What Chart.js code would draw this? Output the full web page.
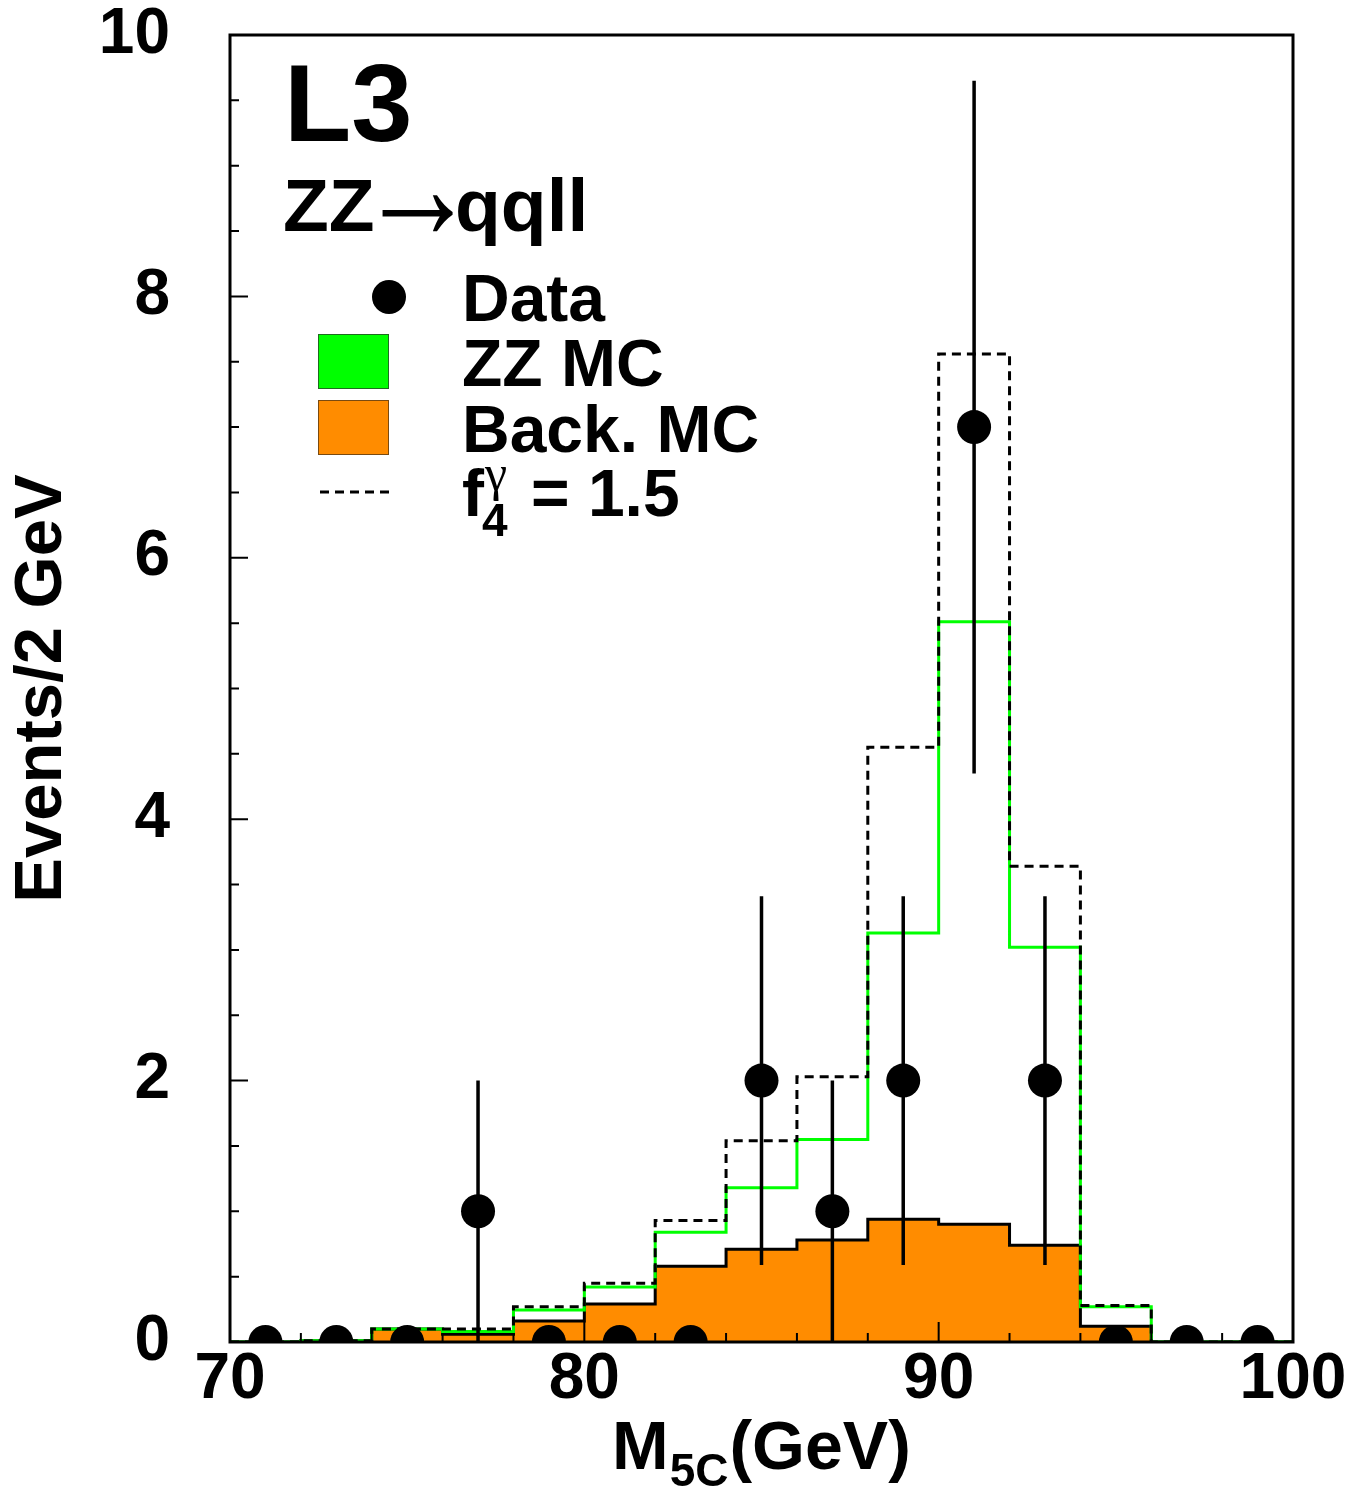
<!DOCTYPE html>
<html><head><meta charset="utf-8">
<script src="https://cdn.jsdelivr.net/npm/chart.js@4/dist/chart.umd.min.js"></script>
<style>html,body{margin:0;padding:0;background:#fff}#wrap{position:relative;width:1359px;height:1488px}</style>
</head><body><div id="wrap"><canvas id="c"></canvas></div>
<script>
// ---- data ----
const binLow = [70, 72, 74, 76, 78, 80, 82, 84, 86, 88, 90, 92, 94, 96, 98];
const xMax = 100;
const binCenters = [71, 73, 75, 77, 79, 81, 83, 85, 87, 89, 91, 93, 95, 97, 99];
const backMC  = [0, 0.01, 0.10, 0.06, 0.16, 0.29, 0.58, 0.71, 0.78, 0.94, 0.90, 0.74, 0.12, 0, 0];
const zzTotal = [0, 0.01, 0.10, 0.08, 0.245, 0.42, 0.84, 1.18, 1.55, 3.13, 5.51, 3.02, 0.27, 0, 0];
const f4Total = [0, 0.01, 0.10, 0.10, 0.27, 0.45, 0.93, 1.54, 2.03, 4.55, 7.56, 3.64, 0.28, 0, 0];
const dataCounts = [0, 0, 0, 1, 0, 0, 0, 2, 1, 2, 7, 2, 0, 0, 0];
const errLow  = [0, 0, 0, 1, 0, 0, 0, 1.41, 1, 1.41, 2.65, 1.41, 0, 0, 0];
const errHigh = [0, 0, 0, 1, 0, 0, 0, 1.41, 1, 1.41, 2.65, 1.41, 0, 0, 0];
const xTickLabels = [70, 80, 90, 100];
const yTickLabels = [0, 2, 4, 6, 8, 10];
const legendLabels = ['Data', 'ZZ MC', 'Back. MC'];

const FONT = "'Liberation Sans', Arial, Helvetica, sans-serif";
const ORANGE = '#FF8C00';
const GREEN = '#00FF00';

function stepPoints(vals) {
  const pts = binLow.map((x, i) => ({x: x, y: vals[i]}));
  pts.push({x: xMax, y: vals[vals.length - 1]});
  return pts;
}

const decorPlugin = {
  id: 'decor',
  afterDatasetsDraw(chart) {
    const ctx = chart.ctx;
    const xs = chart.scales.x, ys = chart.scales.y;
    const a = chart.chartArea;
    ctx.save();
    // error bars
    ctx.strokeStyle = '#000';
    ctx.lineWidth = 3.5;
    ctx.beginPath();
    for (let i = 0; i < dataCounts.length; i++) {
      if (errLow[i] === 0 && errHigh[i] === 0) continue;
      const px = xs.getPixelForValue(binCenters[i]);
      ctx.moveTo(px, ys.getPixelForValue(dataCounts[i] - errLow[i]));
      ctx.lineTo(px, ys.getPixelForValue(dataCounts[i] + errHigh[i]));
    }
    ctx.stroke();
    // ticks (inside)
    ctx.lineWidth = 2;
    ctx.beginPath();
    for (let v = 70; v <= 100; v += 2) {
      const px = xs.getPixelForValue(v);
      const len = (v % 10 === 0) ? 20 : 9;
      ctx.moveTo(px, a.bottom);
      ctx.lineTo(px, a.bottom - len);
    }
    for (let k = 0; k <= 20; k++) {
      const v = k * 0.5;
      const py = ys.getPixelForValue(v);
      const len = (k % 4 === 0) ? 18 : 9;
      ctx.moveTo(a.left, py);
      ctx.lineTo(a.left + len, py);
    }
    ctx.stroke();
    // frame
    ctx.lineWidth = 3;
    ctx.strokeRect(a.left, a.top, a.right - a.left, a.bottom - a.top);
    ctx.restore();
  },
  afterDraw(chart) {
    const ctx = chart.ctx;
    ctx.save();
    ctx.fillStyle = '#000';
    ctx.textBaseline = 'alphabetic';
    ctx.textAlign = 'left';
    // x axis title  M_5C(GeV)
    ctx.font = 'bold 68px ' + FONT;
    let x = 612;
    ctx.fillText('M', x, 1469);
    x += ctx.measureText('M').width;
    ctx.font = 'bold 46px ' + FONT;
    ctx.fillText('5C', x + 1, 1486);
    x += ctx.measureText('5C').width + 2;
    ctx.font = 'bold 68px ' + FONT;
    ctx.fillText('(GeV)', x, 1469);

    // L3 label
    ctx.font = 'bold 110px ' + FONT;
    ctx.fillText('L3', 284, 141);
    // ZZ -> qqll
    ctx.font = 'bold 75px ' + FONT;
    ctx.fillText('ZZ', 283, 231);
    ctx.fillText('qqll', 455, 231);
    ctx.save();
    ctx.font = '100px ' + FONT;
    const m = ctx.measureText('\u2192');
    const inkL = -m.actualBoundingBoxLeft, inkR = m.actualBoundingBoxRight;
    const inkT = -m.actualBoundingBoxAscent, inkB = m.actualBoundingBoxDescent;
    const tx0 = 382, tx1 = 453, ty0 = 194, ty1 = 231;
    const sx = (tx1 - tx0) / (inkR - inkL), sy = (ty1 - ty0) / (inkB - inkT);
    ctx.translate(tx0 - inkL * sx, ty0 - inkT * sy);
    ctx.scale(sx, sy);
    ctx.fillText('\u2192', 0, 0);
    ctx.restore();

    // legend
    ctx.font = 'bold 66px ' + FONT;
    ctx.fillText(legendLabels[0], 462, 321);
    ctx.fillText(legendLabels[1], 462, 386);
    ctx.fillText(legendLabels[2], 462, 452);
    // f4^gamma = 1.5
    ctx.fillText('f', 462, 516);
    ctx.font = '50px "Liberation Serif", "DejaVu Serif", serif';
    ctx.fillText('\u03B3', 485, 490);
    ctx.font = 'bold 46px ' + FONT;
    ctx.fillText('4', 482, 536);
    ctx.font = 'bold 66px ' + FONT;
    ctx.fillText('= 1.5', 531, 516);

    // symbols
    ctx.beginPath();
    ctx.arc(389, 297, 17, 0, Math.PI * 2);
    ctx.fill();
    ctx.fillStyle = GREEN;
    ctx.fillRect(318, 334, 71, 55);
    ctx.strokeStyle = '#1f6b1f';
    ctx.lineWidth = 1;
    ctx.strokeRect(318.5, 334.5, 70, 54);
    ctx.fillStyle = ORANGE;
    ctx.fillRect(318, 400, 71, 55);
    ctx.strokeStyle = '#7a4a10';
    ctx.strokeRect(318.5, 400.5, 70, 54);
    ctx.strokeStyle = '#000';
    ctx.lineWidth = 3;
    ctx.setLineDash([9, 6]);
    ctx.beginPath();
    ctx.moveTo(320, 492);
    ctx.lineTo(389, 492);
    ctx.stroke();
    ctx.restore();
  }
};

new Chart(document.getElementById('c'), {
  type: 'scatter',
  data: {
    datasets: [
      {
        label: 'Data', type: 'scatter', order: 0,
        data: binCenters.map((x, i) => ({x: x, y: dataCounts[i]})),
        pointRadius: 17, pointHoverRadius: 17,
        backgroundColor: '#000', borderColor: '#000', borderWidth: 0
      },
      {
        label: 'f4 = 1.5', type: 'line', order: 1,
        data: stepPoints(f4Total), stepped: true,
        borderColor: '#000', borderWidth: 3, borderDash: [9, 6],
        pointRadius: 0, fill: false
      },
      {
        label: 'ZZ MC', type: 'line', order: 2,
        data: stepPoints(zzTotal), stepped: true,
        borderColor: GREEN, borderWidth: 3,
        pointRadius: 0, fill: false
      },
      {
        label: 'Back. MC', type: 'line', order: 3,
        data: stepPoints(backMC), stepped: true,
        borderColor: '#000', borderWidth: 3, backgroundColor: ORANGE,
        pointRadius: 0, fill: 'origin'
      }
    ]
  },
  options: {
    responsive: true, maintainAspectRatio: false, animation: false,
    events: [],
    layout: {padding: {top: 35, right: 66, left: 0, bottom: 0}, autoPadding: false},
    plugins: {legend: {display: false}, tooltip: {enabled: false}},
    scales: {
      x: {
        type: 'linear', position: 'bottom', min: 70, max: xMax,
        grid: {display: false, drawTicks: false, tickLength: 0}, border: {display: false},
        ticks: {
          stepSize: 10, autoSkip: false, maxRotation: 0, color: '#000', padding: 6,
          font: {family: FONT, size: 64, weight: 'bold', lineHeight: 1},
          callback: (v) => xTickLabels.includes(v) ? String(v) : ''
        },
        afterFit(s) { s.height = 146; s.paddingLeft = 0; s.paddingRight = 0; }
      },
      y: {
        type: 'linear', min: 0, max: 10,
        grid: {display: false, drawTicks: false, tickLength: 0}, border: {display: false},
        ticks: {
          stepSize: 2, color: '#000', padding: 60,
          font: {family: FONT, size: 64, weight: 'bold', lineHeight: 1},
          callback: (v) => yTickLabels.includes(v) ? String(v) : ''
        },
        title: {
          display: true, text: 'Events/2 GeV', color: '#000',
          font: {family: FONT, size: 67, weight: 'bold', lineHeight: 1.2},
          padding: {top: 2, bottom: 0}
        },
        afterFit(s) { s.width = 230; s.paddingTop = 0; s.paddingBottom = 0; }
      }
    }
  },
  plugins: [decorPlugin]
});
</script>
</body></html>
